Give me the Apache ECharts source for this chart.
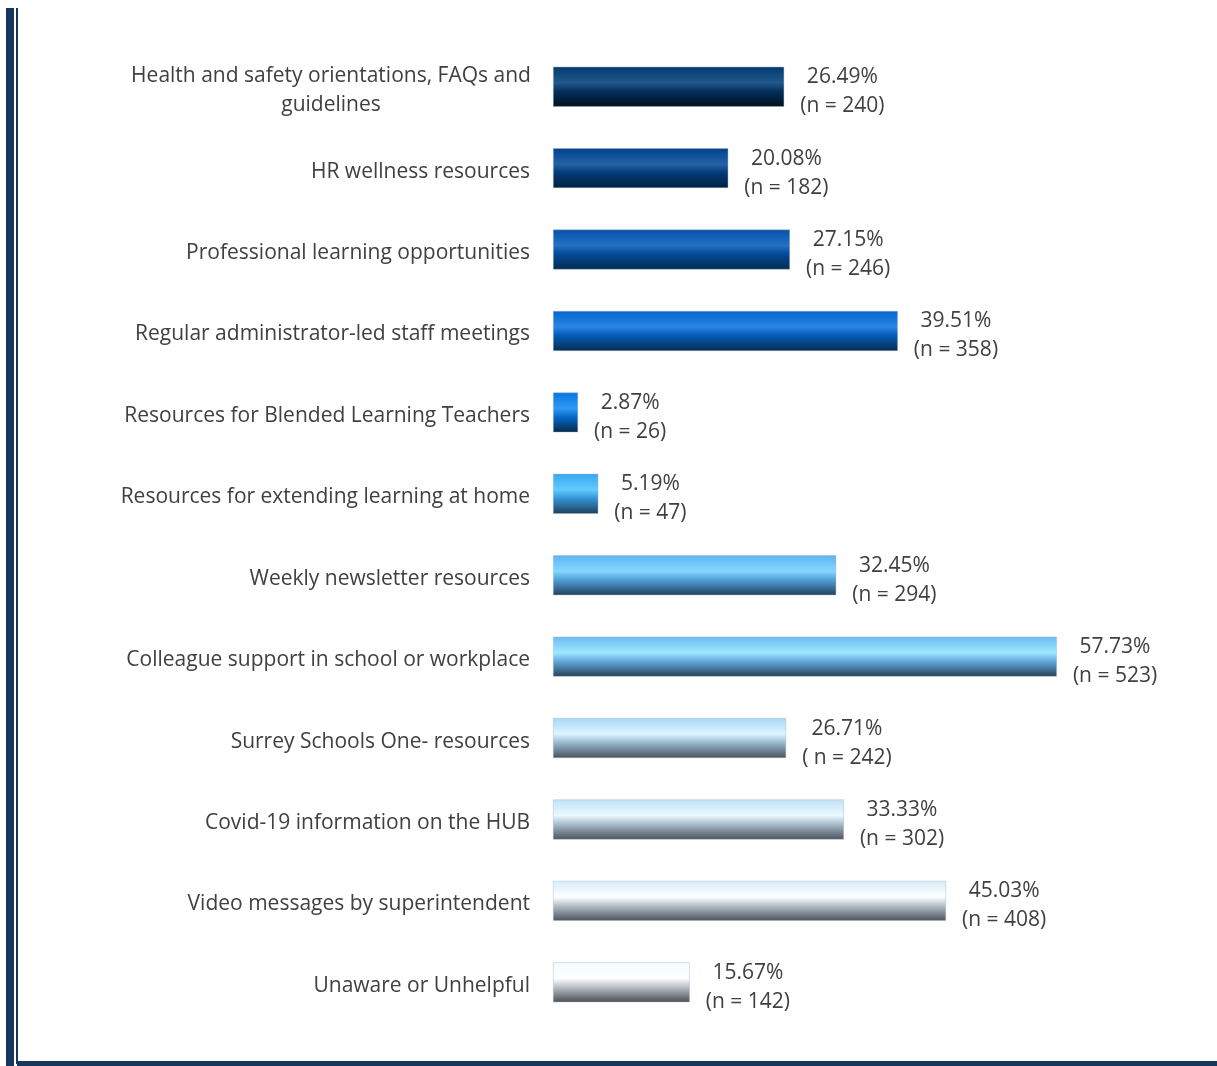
<!DOCTYPE html>
<html>
<head>
<meta charset="utf-8">
<script src="https://cdn.jsdelivr.net/npm/echarts@6/dist/echarts.min.js"></script>
<style>
html,body{margin:0;padding:0;background:#fff;}
#chart{width:1217px;height:1066px;}
</style>
</head>
<body>
<div id="chart"></div>
<script>
const categories = [
  "Health and safety orientations, FAQs and guidelines",
  "HR wellness resources",
  "Professional learning opportunities",
  "Regular administrator-led staff meetings",
  "Resources for Blended Learning Teachers",
  "Resources for extending learning at home",
  "Weekly newsletter resources",
  "Colleague support in school or workplace",
  "Surrey Schools One- resources",
  "Covid-19 information on the HUB",
  "Video messages by superintendent",
  "Unaware or Unhelpful"
];
const percents = [26.49, 20.08, 27.15, 39.51, 2.87, 5.19, 32.45, 57.73, 26.71, 33.33, 45.03, 15.67];
const counts = [240, 182, 246, 358, 26, 47, 294, 523, 242, 302, 408, 142];
const countLabels = ["(n = 240)", "(n = 182)", "(n = 246)", "(n = 358)", "(n = 26)", "(n = 47)", "(n = 294)", "(n = 523)", "( n = 242)", "(n = 302)", "(n = 408)", "(n = 142)"];
// gradient stops per bar: [top, highlight, lower-mid, bottom]
const barColors = [
  ["#033b6f", "#22598c", "#032f5a", "#00101f"],
  ["#02418a", "#2362a5", "#033a78", "#01203f"],
  ["#0352a8", "#2470c4", "#034a96", "#032a52"],
  ["#0566cc", "#2a86e6", "#0459b3", "#052d55"],
  ["#0676e2", "#2f98f4", "#0667c6", "#05294a"],
  ["#38a6ee", "#62cbff", "#3593d4", "#1d3f5e"],
  ["#5bb3f2", "#86d6ff", "#4f9ed8", "#22405a"],
  ["#6cbaf2", "#9de9ff", "#62a8dc", "#253f57"],
  ["#a9d7f6", "#dbf5ff", "#98b8cc", "#46525d"],
  ["#bfe1f7", "#eafaff", "#a9bccb", "#4a535c"],
  ["#d6ecfa", "#ffffff", "#b4c0ca", "#4c5359"],
  ["#f4faff", "#ffffff", "#b9c0c6", "#4a4f55"]
];

const FONT_FAMILY = "'Open Sans', sans-serif";
const FONT_SIZE = 21;
const measureCtx = document.createElement('canvas').getContext('2d');
measureCtx.font = FONT_SIZE + "px " + FONT_FAMILY;
function textW(s){ return measureCtx.measureText(s).width; }

const LABEL_GAP = 16;
const data = percents.map((v, i) => {
  const c = barColors[i];
  const l1 = v.toFixed(2) + "%";
  const l2 = countLabels[i];
  const w = Math.max(textW(l1), textW(l2));
  return {
    value: v,
    itemStyle: {
      color: new echarts.graphic.LinearGradient(0, 0, 0, 1, [
        {offset: 0, color: c[0]},
        {offset: 0.4, color: c[1]},
        {offset: 0.62, color: c[2]},
        {offset: 1, color: c[3]}
      ]),
      borderColor: "rgba(160,180,200,0.7)",
      borderWidth: 0.6
    },
    label: {
      show: true,
      position: "right",
      distance: LABEL_GAP,
      align: "center",
      offset: [w / 2, 5],
      formatter: l1 + "\n" + l2
    }
  };
});

const chart = echarts.init(document.getElementById('chart'), null, {renderer: 'canvas'});
chart.setOption({
  animation: false,
  backgroundColor: "#ffffff",
  grid: {left: 553, right: 53, top: 46, bottom: 43, containLabel: false},
  xAxis: {type: "value", min: 0, max: 70, show: false},
  yAxis: {
    type: "category",
    inverse: true,
    data: categories,
    axisLine: {show: false},
    axisTick: {show: false},
    axisLabel: {
      margin: 23,
      color: "#404040",
      fontFamily: FONT_FAMILY,
      fontSize: FONT_SIZE,
      lineHeight: 29,
      formatter: function (val, idx) {
        if (idx === 0) {
          return "{c|Health and safety orientations, FAQs and}\n{c|guidelines}";
        }
        return "{n|" + val + "}";
      },
      rich: {
        c: {width: 398, align: "center", fontFamily: FONT_FAMILY, fontSize: FONT_SIZE, color: "#404040", lineHeight: 29, padding: [7, 0, 0, 0]},
        n: {fontFamily: FONT_FAMILY, fontSize: FONT_SIZE, color: "#404040", lineHeight: 29, padding: [7, 0, 0, 0]}
      }
    }
  },
  series: [{
    type: "bar",
    data: data,
    barWidth: 40,
    label: {
      color: "#404040",
      fontFamily: FONT_FAMILY,
      fontSize: FONT_SIZE,
      lineHeight: 29
    }
  }],
  graphic: [
    {type: "rect", shape: {x: 6, y: 8, width: 8, height: 1058}, style: {fill: "#17365d"}},
    {type: "rect", shape: {x: 16, y: 8, width: 2, height: 1056}, style: {fill: "#17365d"}},
    {type: "rect", shape: {x: 17, y: 1061, width: 1200, height: 5}, style: {fill: "#17365d"}}
  ]
});
</script>
</body>
</html>
